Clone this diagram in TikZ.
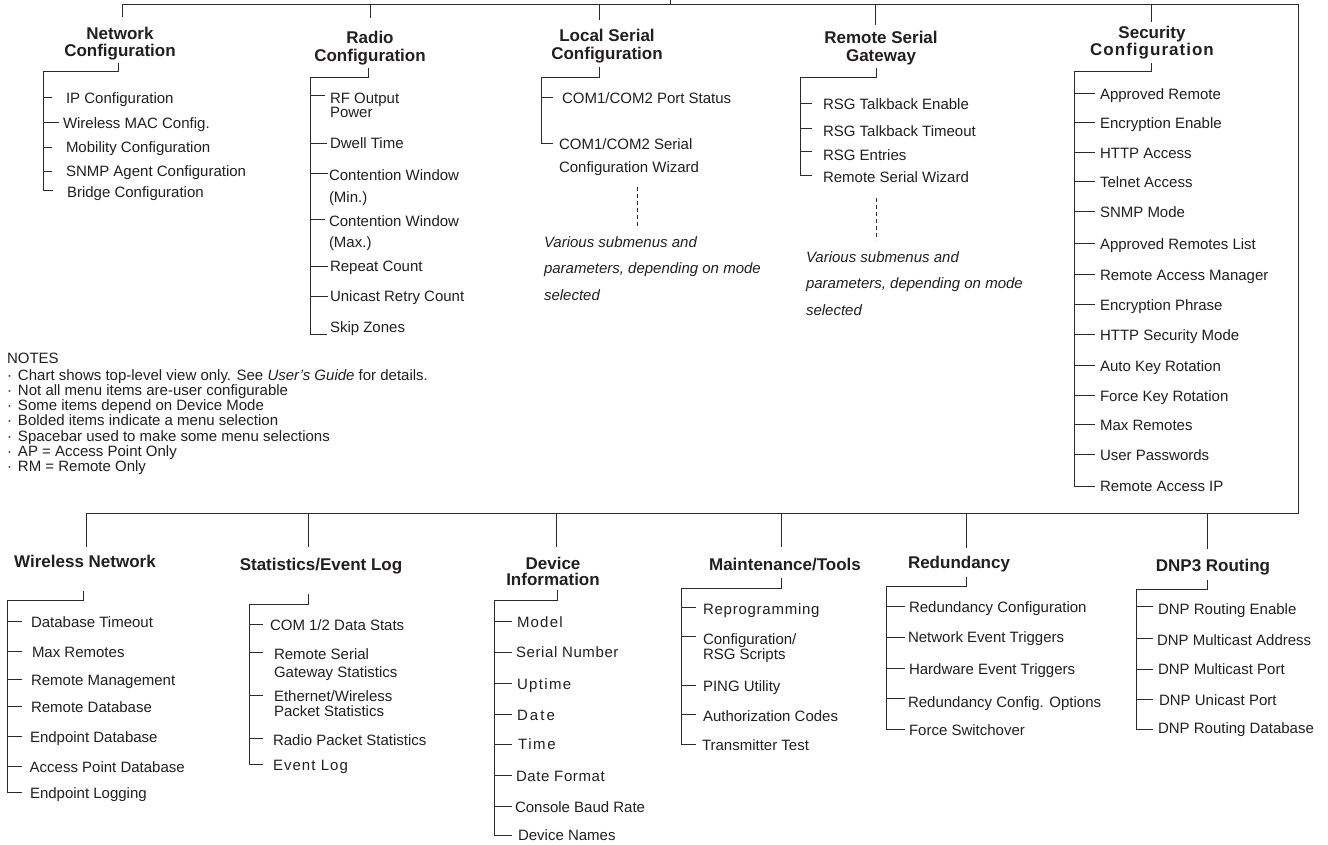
\documentclass[tikz,border=0pt]{standalone}
\usepackage{fontspec}
\setmainfont{Liberation Sans}
\definecolor{txt}{HTML}{231F20}
\definecolor{lnc}{HTML}{2B2B2B}
\newcommand\twol[3]{\vtop{\baselineskip=#1pt\lineskiplimit=-100pt\hbox{#2}\hbox{#3}}}
\newcommand\twoc[3]{\vtop{\baselineskip=#1pt\lineskiplimit=-100pt\halign{\hfil##\hfil\cr#2\cr#3\cr}}}
\newcommand\ls[1]{\addfontfeature{LetterSpace=#1}}
\newcommand\itm[7][]{\node[item,#1] (#2) at (#3,#4) {#7};\path (#2.base west) ++(-#6,-#5) coordinate (#2-t);}
\tikzset{
  item/.style={inner sep=0pt,outer sep=0pt,anchor=base west,text=txt,font=\fontsize{15}{15}\selectfont},
  hdr/.style={inner sep=0pt,outer sep=0pt,anchor=base,text=txt,font=\bfseries\fontsize{17}{17}\selectfont},
  ln/.style={draw=lnc,line width=1pt},
  dsh/.style={draw=lnc,line width=0.9pt,dash pattern=on 4pt off 3pt}
}
\begin{document}
\begin{tikzpicture}[x=1pt,y=-1pt]
\useasboundingbox (0,0) rectangle (1328,845);
\fill[white] (0,0) rectangle (1328,845);

% ---------- trunk ----------
\coordinate (root) at (670,-6);
\coordinate (topR) at (1298,5);
\coordinate (botL) at (86,513);
\draw[ln] (root) -- (670,5);
\draw[ln] (122,17) |- (topR) |- (botL) -- (86,547);
\draw[ln] (370,5) -- (370,18);
\draw[ln] (599,5) -- (599,20);
\draw[ln] (875,5) -- (875,25);
\draw[ln] (1151,5) -- (1151,22);
\draw[ln] (308,513) -- (308,547);
\draw[ln] (556,513) -- (556,547);
\draw[ln] (781,513) -- (781,547);
\draw[ln] (966,513) -- (966,548);
\draw[ln] (1207,513) -- (1207,549);

% ---------- headers ----------
\node[hdr] (hNet) at (120,39.3) {\twoc{17.5}{Network}{Configuration}};
\node[hdr] (hRad) at (370,43.3) {\twoc{18.3}{Radio}{Configuration}};
\node[hdr] (hLoc) at (607,41.7) {\twoc{17.6}{Local Serial}{Configuration}};
\node[hdr] (hRem) at (881,44) {\twoc{17.7}{Remote Serial}{Gateway}};
\node[hdr] (hSec) at (1152,38.3) {\twoc{17.7}{Security}{\ls{6}Configuration}};
\node[hdr] (hWir) at (85,567.7) {Wireless Network};
\node[hdr] (hSta) at (321,570) {Statistics/Event Log};
\node[hdr] (hDev) at (553,569) {\twoc{16.7}{Device}{Information}};
\node[hdr] (hMai) at (785,570.7) {Maintenance/Tools};
\node[hdr] (hRed) at (959,568) {Redundancy};
\node[hdr] (hDnp) at (1213,571.7) {DNP3 Routing};

% ---------- Network Configuration ----------
\itm{n1}{66}{104}{6}{14}{IP Configuration}
\itm{n2}{63}{129}{6}{4}{Wireless MAC Config.}
\itm{n3}{66}{153}{5.5}{14}{Mobility Configuration}
\itm{n4}{66}{177}{5.5}{14}{SNMP Agent Configuration}
\itm{n5}{67}{198}{7}{14}{Bridge Configuration}
\foreach \n in {n1,n2,n3,n4} \draw[ln] (43,0 |- \n-t) -- (\n-t);
\draw[ln] (118,63) -- (118,72) -- (43,72) -- (43,0 |- n5-t) -- (n5-t);

% ---------- Radio Configuration ----------
\itm{r1}{330}{104}{8}{5}{\twol{14}{RF Output}{Power}}
\itm{r2}{330}{149}{5}{3}{Dwell Time}
\itm{r3}{329}{180.5}{7}{1}{\twol{22}{Contention Window}{(Min.)}}
\itm{r4}{329}{226.5}{6.5}{4}{\twol{21}{Contention Window}{(Max.)}}
\itm{r5}{330}{271}{5}{2}{Repeat Count}
\itm{r6}{330}{301}{5}{2}{Unicast Retry Count}
\itm{r7}{330}{332}{-2}{3}{Skip Zones}
\foreach \n in {r1,r2,r3,r4,r5,r6} \draw[ln] (310,0 |- \n-t) -- (\n-t);
\draw[ln] (368,68) -- (368,78) -- (310,78) -- (310,0 |- r7-t) -- (r7-t);

% ---------- Local Serial Configuration ----------
\itm{l1}{562}{103.3}{6}{9}{COM1/COM2 Port Status}
\itm{l2}{559}{150}{6}{6}{\twol{22.5}{COM1/COM2 Serial}{Configuration Wizard}}
\draw[ln] (541,0 |- l1-t) -- (l1-t);
\draw[ln] (599,67) -- (599,78) -- (541,78) -- (541,0 |- l2-t) -- (l2-t);
\node[item,font=\itshape\fontsize{15}{15}\selectfont] (l3) at (544,247.3)
  {\vtop{\baselineskip=26.5pt\lineskiplimit=-100pt\hbox{Various submenus and}\hbox{parameters, depending on mode}\hbox{selected}}};
\coordinate (l2d) at (637,187);
\coordinate (l3d) at (637,228);
\draw[dsh] (l2d) -- (l3d);

% ---------- Remote Serial Gateway ----------
\itm{g1}{823}{109.3}{6}{11}{RSG Talkback Enable}
\itm{g2}{823}{136.7}{8.5}{11}{RSG Talkback Timeout}
\itm{g3}{823}{160.7}{9.5}{11}{RSG Entries}
\itm{g4}{823}{182.7}{6.7}{11}{Remote Serial Wizard}
\foreach \n in {g1,g2,g3} \draw[ln] (800,0 |- \n-t) -- (\n-t);
\draw[ln] (876,68) -- (876,78) -- (800,78) -- (800,0 |- g4-t) -- (g4-t);
\node[item,font=\itshape\fontsize{15}{15}\selectfont] (g5) at (806,262.3)
  {\vtop{\baselineskip=26.5pt\lineskiplimit=-100pt\hbox{Various submenus and}\hbox{parameters, depending on mode}\hbox{selected}}};
\coordinate (g4d) at (876,198);
\coordinate (g5d) at (876,240);
\draw[dsh] (g4d) -- (g5d);

% ---------- Security Configuration ----------
\itm{c1}{1100}{99.3}{6}{5}{Approved Remote}
\itm{c2}{1100}{129}{6}{5}{Encryption Enable}
\itm{c3}{1100}{159}{6}{5}{HTTP Access}
\itm{c4}{1100}{188}{6}{5}{Telnet Access}
\itm{c5}{1100}{217.7}{6}{5}{SNMP Mode}
\itm{c6}{1100}{250}{6}{5}{Approved Remotes List}
\itm{c7}{1100}{280}{6}{5}{Remote Access Manager}
\itm{c8}{1100}{310}{6}{5}{Encryption Phrase}
\itm{c9}{1100}{340.7}{6}{5}{HTTP Security Mode}
\itm{c10}{1100}{371}{6}{5}{Auto Key Rotation}
\itm{c11}{1100}{401}{6}{5}{Force Key Rotation}
\itm{c12}{1100}{430.7}{6}{5}{Max Remotes}
\itm{c13}{1100}{460.7}{6}{5}{User Passwords}
\itm{c14}{1100}{491}{5}{5}{Remote Access IP}
\foreach \n in {c1,c2,c3,c4,c5,c6,c7,c8,c9,c10,c11,c12,c13} \draw[ln] (1074,0 |- \n-t) -- (\n-t);
\draw[ln] (1151,63) -- (1151,72) -- (1074,72) -- (1074,0 |- c14-t) -- (c14-t);

% ---------- Notes ----------
\node[item] (notes) at (7,363.7) {\vtop{\baselineskip=15.17pt\lineskiplimit=-100pt
  \hbox{NOTES}\vskip1.5pt
  \hbox{\makebox[11pt][l]{·}Chart shows top-level view only. See {\itshape User’s Guide} for details.}
  \hbox{\makebox[11pt][l]{·}Not all menu items are-user configurable}
  \hbox{\makebox[11pt][l]{·}Some items depend on Device Mode}
  \hbox{\makebox[11pt][l]{·}Bolded items indicate a menu selection}
  \hbox{\makebox[11pt][l]{·}Spacebar used to make some menu selections}
  \hbox{\makebox[11pt][l]{·}AP = Access Point Only}
  \hbox{\makebox[11pt][l]{·}RM = Remote Only}}};

% ---------- Wireless Network ----------
\itm{w1}{31}{627.3}{6}{9}{Database Timeout}
\itm{w2}{32}{657}{6}{10}{Max Remotes}
\itm{w3}{31}{685}{6}{9}{Remote Management}
\itm{w4}{31}{712}{6}{9}{Remote Database}
\itm{w5}{30}{742}{6}{8}{Endpoint Database}
\itm{w6}{29.7}{772}{6}{7.7}{Access Point Database}
\itm{w7}{30}{798}{6}{8}{Endpoint Logging}
\foreach \n in {w1,w2,w3,w4,w5,w6} \draw[ln] (7,0 |- \n-t) -- (\n-t);
\draw[ln] (83,591) -- (83,600) -- (7,600) -- (7,0 |- w7-t) -- (w7-t);

% ---------- Statistics/Event Log ----------
\itm{s1}{270}{630}{6}{7}{COM 1/2 Data Stats}
\itm{s2}{274}{659.3}{7}{11}{\twol{18}{Remote Serial}{Gateway Statistics}}
\itm{s3}{274}{701}{6}{11}{\twol{15.7}{Ethernet/Wireless}{Packet Statistics}}
\itm{s4}{273}{745}{7}{10}{Radio Packet Statistics}
\itm{s5}{273}{770}{6}{10}{\ls{7}Event Log}
\foreach \n in {s1,s2,s3,s4} \draw[ln] (249,0 |- \n-t) -- (\n-t);
\draw[ln] (308,594) -- (308,604) -- (249,604) -- (249,0 |- s5-t) -- (s5-t);

% ---------- Device Information ----------
\itm{d1}{517}{627.3}{5.5}{5}{\ls{8}Model}
\itm{d2}{516}{657.3}{4.6}{4}{\ls{4}Serial Number}
\itm{d3}{517}{689}{6}{5}{\ls{9}Uptime}
\itm{d4}{517}{720}{6}{5}{\ls{14}Date}
\itm{d5}{518}{749.3}{5}{6}{\ls{11}Time}
\itm{d6}{516}{781}{6}{4}{\ls{4}Date Format}
\itm{d7}{515}{812.3}{6}{3}{Console Baud Rate}
\itm{d8}{518}{840.7}{5}{6}{Device Names}
\foreach \n in {d1,d2,d3,d4,d5,d6,d7} \draw[ln] (494,0 |- \n-t) -- (\n-t);
\draw[ln] (557,590) -- (557,600) -- (494,600) -- (494,0 |- d8-t) -- (d8-t);

% ---------- Maintenance/Tools ----------
\itm{m1}{703}{614}{7}{7}{\ls{5}Reprogramming}
\itm{m2}{703}{644}{8}{7}{\twol{15}{Configuration/}{RSG Scripts}}
\itm{m3}{703}{691}{6}{7}{PING Utility}
\itm{m4}{703}{721}{7}{7}{Authorization Codes}
\itm{m5}{702}{750}{6}{6}{Transmitter Test}
\foreach \n in {m1,m2,m3,m4} \draw[ln] (681,0 |- \n-t) -- (\n-t);
\draw[ln] (781,578) -- (781,588) -- (681,588) -- (681,0 |- m5-t) -- (m5-t);

% ---------- Redundancy ----------
\itm{e1}{909}{612.3}{6}{4}{Redundancy Configuration}
\itm{e2}{908}{642.3}{5}{3}{Network Event Triggers}
\itm{e3}{909}{674}{6}{4}{Hardware Event Triggers}
\itm{e4}{908}{707.3}{9}{3}{Redundancy Config. Options}
\itm{e5}{909}{735.7}{6}{4}{Force Switchover}
\foreach \n in {e1,e2,e3,e4} \draw[ln] (886,0 |- \n-t) -- (\n-t);
\draw[ln] (966,577) -- (966,586) -- (886,586) -- (886,0 |- e5-t) -- (e5-t);

% ---------- DNP3 Routing ----------
\itm{p1}{1158}{614}{8}{5}{DNP Routing Enable}
\itm{p2}{1157}{645}{7}{4}{DNP Multicast Address}
\itm{p3}{1158}{674.3}{5}{5}{DNP Multicast Port}
\itm{p4}{1159}{705}{6}{6}{DNP Unicast Port}
\itm{p5}{1158}{733.3}{4}{5}{DNP Routing Database}
\foreach \n in {p1,p2,p3,p4} \draw[ln] (1136,0 |- \n-t) -- (\n-t);
\draw[ln] (1207,580) -- (1207,589) -- (1136,589) -- (1136,0 |- p5-t) -- (p5-t);
\end{tikzpicture}
\end{document}
